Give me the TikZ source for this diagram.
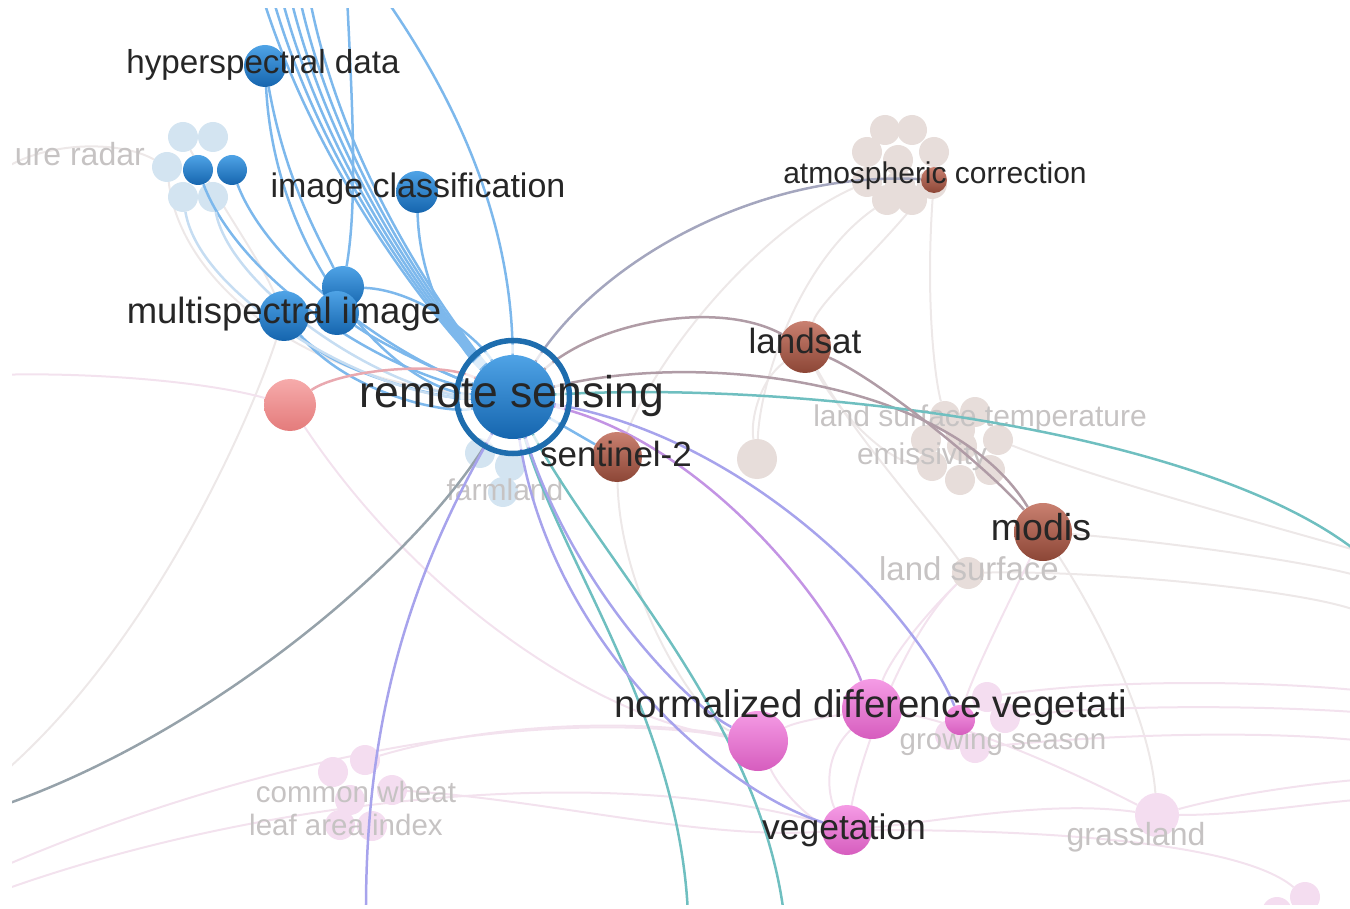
\documentclass[tikz,border=0pt]{standalone}
\usepackage{fontspec}
\setmainfont{Liberation Sans}
\usetikzlibrary{backgrounds}

\definecolor{blueTop}{HTML}{4FA3E6}
\definecolor{blueBot}{HTML}{1565AE}
\definecolor{ringblue}{HTML}{1E6DAE}
\definecolor{brownTop}{HTML}{C98070}
\definecolor{brownBot}{HTML}{8C4636}
\definecolor{pinkTop}{HTML}{F59BE5}
\definecolor{pinkBot}{HTML}{D65DBE}
\definecolor{redTop}{HTML}{F6ABAB}
\definecolor{redBot}{HTML}{E47B7B}
\definecolor{fadeblue}{HTML}{D3E4F1}
\definecolor{fadebeige}{HTML}{E7DDDA}
\definecolor{fadepink}{HTML}{F4DDF0}
\definecolor{edgeblue}{HTML}{7DB8EC}
\definecolor{edgelight}{HTML}{C6DDF2}
\definecolor{edgefade}{HTML}{EDE8E8}
\definecolor{edgepinkfade}{HTML}{F3E2EE}
\definecolor{edgeteal}{HTML}{6FBFC0}
\definecolor{edgelav}{HTML}{A7A3EC}
\definecolor{edgepurple}{HTML}{C394E4}
\definecolor{edgegray}{HTML}{A4A6BE}
\definecolor{edgemauve}{HTML}{B09CA6}
\definecolor{edgeolive}{HTML}{96A2AA}
\definecolor{edgered}{HTML}{E9A9B0}
\definecolor{labtext}{HTML}{262626}
\definecolor{fadetext}{HTML}{C6C3C3}

\pgfdeclarelayer{fadeedges}
\pgfdeclarelayer{fadenodes}
\pgfdeclarelayer{edges}
\pgfdeclarelayer{labels}
\pgfsetlayers{fadeedges,fadenodes,edges,main,labels}

\tikzset{
  bubble/.style={circle, inner sep=0pt, draw=none},
  bluenode/.style={bubble, top color=blueTop, bottom color=blueBot},
  brownnode/.style={bubble, top color=brownTop, bottom color=brownBot},
  pinknode/.style={bubble, top color=pinkTop, bottom color=pinkBot},
  rednode/.style={bubble, top color=redTop, bottom color=redBot},
  fblue/.style={bubble, fill=fadeblue},
  fbeige/.style={bubble, fill=fadebeige},
  fpink/.style={bubble, fill=fadepink},
  link/.style={line width=2.5pt, draw=edgeblue},
  flink/.style={line width=2pt, draw=edgefade},
  plink/.style={line width=2pt, draw=edgepinkfade},
  kwlabel/.style={anchor=base, inner sep=0pt, text=labtext, font=\fontsize{#1}{#1}\selectfont},
  fadelabel/.style={kwlabel=#1, text=fadetext},
}

\begin{document}
\begin{tikzpicture}[x=1pt,y=-1pt]
\useasboundingbox (0,0) rectangle (1350,909);

% faded clusters
\begin{pgfonlayer}{fadenodes}
  \foreach \x/\y [count=\i] in {183/137,213/137,167/167,183/197,213/197}
    \node[fblue, minimum size=30] (fb\i) at (\x,\y) {};
  \foreach \x/\y [count=\i] in {480/453,510/466,503/492}
    \node[fblue, minimum size=30] (fm\i) at (\x,\y) {};
  \foreach \x/\y [count=\i] in {867/152,885/130,912/130,934/152,867/182,887/200,912/200,932/184,898/160,900/185}
    \node[fbeige, minimum size=30] (fa\i) at (\x,\y) {};
  \foreach \x/\y [count=\i] in {945/416,975/412,998/440,990/470,960/480,932/466,926/440,962/446,960/430}
    \node[fbeige, minimum size=30] (fe\i) at (\x,\y) {};
  \node[fbeige, minimum size=40] (fsl) at (757,459) {};
  \node[fbeige, minimum size=32] (fls) at (968,573) {};
  \foreach \x/\y [count=\i] in {987/697,1005/718,975/748,950/735}
    \node[fpink, minimum size=30] (fg\i) at (\x,\y) {};
  \foreach \x/\y [count=\i] in {333/772,365/760,392/790,350/800,372/826,340/825}
    \node[fpink, minimum size=30] (fw\i) at (\x,\y) {};
  \node[fpink, minimum size=44] (fgr) at (1157,815) {};
  \node[fpink, minimum size=30] (fbr1) at (1305,897) {};
  \node[fpink, minimum size=30] (fbr2) at (1277,912) {};

  \node[fadelabel=32, anchor=base east] (sarL) at (145,166) {ure radar};
  \node[fadelabel=30] (farmL) at (505,500) {farmland};
  \node[fadelabel=30] (lstL) at (980,426) {land surface temperature};
  \node[fadelabel=30] (emiL) at (922,464) {emissivity};
  \node[fadelabel=33] (lsfL) at (969,580) {land surface};
  \node[fadelabel=29.5] (grL) at (1003,749) {growing season};
  \node[fadelabel=29.5] (cwL) at (356,802) {common wheat};
  \node[fadelabel=29.5] (laiL) at (346,835) {leaf area index};
  \node[fadelabel=32] (grsL) at (1136,845) {grassland};
\end{pgfonlayer}

% keyword bubbles
\node[bluenode, minimum size=42] (hd) at (265,66) {};
\node[bluenode, minimum size=30] (sar1) at (198,170) {};
\node[bluenode, minimum size=30] (sar2) at (232,170) {};
\node[bluenode, minimum size=42] (ic) at (417,192) {};
\node[bluenode, minimum size=42] (b3) at (343,287) {};
\node[bluenode, minimum size=50] (mi) at (284,316) {};
\node[bluenode, minimum size=44] (b4) at (337,313) {};
\node[bluenode, minimum size=84] (rs) at (513,397) {};
\node[rednode, minimum size=52] (red) at (290,405) {};
\node[brownnode, minimum size=26] (atm) at (934,180) {};
\node[brownnode, minimum size=52] (lsat) at (805,347) {};
\node[brownnode, minimum size=50] (sent) at (617,457) {};
\node[brownnode, minimum size=58] (modis) at (1043,532) {};
\node[pinknode, minimum size=60] (pk) at (758,741) {};
\node[pinknode, minimum size=60] (ndvi) at (872,709) {};
\node[pinknode, minimum size=30] (pks) at (960,720) {};
\node[pinknode, minimum size=50] (veg) at (847,830) {};

\draw[white, line width=9pt, opacity=.75] (rs.center) circle (48);
\draw[ringblue, line width=5.5pt] (rs.center) circle (56.5);

% loose ends outside the frame
\coordinate (topA) at (383,-5);
\coordinate (topB) at (347,-5);
\coordinate (westlow) at (-5,808);
\coordinate (southA) at (366,915);
\coordinate (southB) at (688,915);
\coordinate (southC) at (784,915);
\coordinate (eastA) at (1355,550);

% coloured links
\begin{pgfonlayer}{edges}
  \foreach \tx [count=\i] in {262,272,281,290,299,309} {
    \coordinate (top\i) at (\tx,-5);
    \draw[link] (rs) .. controls (440+3*\i,330) and (314+5*\i,180) .. (top\i);
  }
  \draw[link] (rs) .. controls (512,250) and (478,130) .. (topA);
  \draw[link] (b3) .. controls (358,200) and (352,100) .. (topB);
  \draw[link] (hd) .. controls (275,260) and (395,390) .. (rs);
  \draw[link] (hd) .. controls (285,180) and (320,240) .. (b3);
  \draw[link] (sar1) .. controls (240,280) and (380,370) .. (rs);
  \draw[link] (sar2) .. controls (270,270) and (400,360) .. (rs);
  \draw[link] (ic) .. controls (420,300) and (470,360) .. (rs);
  \draw[link] (b3) .. controls (420,290) and (480,340) .. (rs);
  \draw[link] (b4) .. controls (390,350) and (460,380) .. (rs);
  \draw[link] (mi) .. controls (330,370) and (440,400) .. (rs);
  \draw[link] (mi) .. controls (350,395) and (450,415) .. (rs);
  \draw[link] (rs) -- (sent);
  \draw[link, draw=edgelight] (fb4) .. controls (200,300) and (380,400) .. (rs);
  \draw[link, draw=edgelight] (fb5) .. controls (230,290) and (390,395) .. (rs);
  \draw[link, draw=edgered] (red) .. controls (340,370) and (440,360) .. (rs);
  \draw[link, draw=edgeolive] (rs) .. controls (420,560) and (200,740) .. (westlow);
  \draw[link, draw=edgelav] (rs) .. controls (420,560) and (365,700) .. (southA);
  \draw[link, draw=edgeteal] (rs) .. controls (560,560) and (680,720) .. (southB);
  \draw[link, draw=edgeteal] (rs) .. controls (600,560) and (760,720) .. (southC);
  \draw[link, draw=edgelav] (rs) .. controls (550,640) and (720,790) .. (veg);
  \draw[link, draw=edgelav] (rs) .. controls (570,580) and (680,700) .. (pk);
  \draw[link, draw=edgepurple] (rs) .. controls (700,440) and (830,600) .. (ndvi);
  \draw[link, draw=edgelav] (rs) .. controls (760,440) and (920,620) .. (pks);
  \draw[link, draw=edgemauve] (rs) .. controls (600,320) and (720,300) .. (lsat);
  \draw[link, draw=edgegray] (rs) .. controls (600,260) and (760,170) .. (atm);
  \draw[link, draw=edgemauve] (rs) .. controls (700,350) and (950,380) .. (modis);
  \draw[link, draw=edgeteal] (rs) .. controls (800,380) and (1200,430) .. (eastA);
  \draw[link, draw=edgemauve] (lsat) .. controls (880,380) and (990,470) .. (modis);
\end{pgfonlayer}

% faint links
\begin{pgfonlayer}{fadeedges}
  \coordinate (westA) at (-5,175);
  \coordinate (westB) at (-5,375);
  \coordinate (westC) at (-5,780);
  \coordinate (westD) at (-5,870);
  \coordinate (westE) at (-5,893);
  \coordinate (eastB) at (1355,575);
  \coordinate (eastC) at (1355,610);
  \coordinate (eastD) at (1355,690);
  \coordinate (eastE) at (1355,712);
  \coordinate (eastF) at (1355,740);
  \coordinate (eastG) at (1355,780);
  \coordinate (eastH) at (1355,800);
  \draw[flink] (westA) .. controls (40,140) and (120,140) .. (fb3);
  \draw[flink] (fb1) .. controls (230,220) and (260,260) .. (mi);
  \draw[flink] (fb3) .. controls (180,280) and (300,380) .. (rs);
  \draw[flink] (westC) .. controls (150,650) and (250,420) .. (mi);
  \draw[flink] (fa5) .. controls (760,230) and (660,350) .. (sent);
  \draw[flink] (fa6) .. controls (800,260) and (760,380) .. (fsl);
  \draw[flink] (atm) .. controls (880,250) and (820,300) .. (lsat);
  \draw[flink] (atm) .. controls (925,300) and (935,380) .. (fe1);
  \draw[flink] (lsat) .. controls (830,400) and (880,460) .. (fe6);
  \draw[flink] (lsat) .. controls (760,380) and (750,420) .. (fsl);
  \draw[flink] (lsat) .. controls (850,430) and (930,520) .. (fls);
  \draw[flink] (fe3) .. controls (1100,480) and (1250,520) .. (eastA);
  \draw[flink] (modis) .. controls (1150,540) and (1300,560) .. (eastB);
  \draw[flink] (fls) .. controls (1100,570) and (1300,590) .. (eastC);
  \draw[flink] (modis) .. controls (1100,620) and (1150,720) .. (fgr);
  \draw[flink] (sent) .. controls (620,600) and (700,720) .. (pk);
  \draw[plink] (westB) .. controls (80,372) and (200,380) .. (red);
  \draw[plink] (red) .. controls (420,600) and (600,720) .. (pk);
  \draw[plink] (fls) .. controls (920,620) and (890,660) .. (ndvi);
  \draw[plink] (fls) .. controls (900,640) and (860,760) .. (veg);
  \draw[plink] (modis) .. controls (1010,600) and (970,680) .. (pks);
  \draw[plink] (fg1) .. controls (1100,680) and (1250,680) .. (eastD);
  \draw[plink] (fg2) .. controls (1100,705) and (1250,705) .. (eastE);
  \draw[plink] (fg3) .. controls (1100,735) and (1250,730) .. (eastF);
  \draw[plink] (fgr) .. controls (1230,795) and (1300,785) .. (eastG);
  \draw[plink] (fgr) .. controls (1240,815) and (1300,805) .. (eastH);
  \draw[plink] (fgr) .. controls (1050,800) and (950,820) .. (veg);
  \draw[plink] (fgr) .. controls (1050,760) and (950,720) .. (ndvi);
  \draw[plink] (ndvi) .. controls (820,760) and (830,800) .. (veg);
  \draw[plink] (pk) .. controls (780,790) and (810,820) .. (veg);
  \draw[plink] (pk) .. controls (800,720) and (840,715) .. (ndvi);
  \draw[plink] (fw2) .. controls (500,720) and (650,720) .. (pk);
  \draw[plink] (fw3) .. controls (550,800) and (700,840) .. (veg);
  \draw[plink] (westD) .. controls (200,780) and (500,700) .. (pk);
  \draw[plink] (westE) .. controls (250,800) and (600,760) .. (veg);
  \draw[plink] (fbr1) .. controls (1250,850) and (1100,830) .. (veg);
\end{pgfonlayer}

% labels and frame margins
\begin{pgfonlayer}{labels}
  \fill[white] (0,0) rectangle (12,909);
  \fill[white] (0,0) rectangle (1350,8);
  \fill[white] (0,905) rectangle (1350,909);
  \node[kwlabel=33.2] (hdL) at (263,74) {hyperspectral data};
  \node[kwlabel=34] (icL) at (418,198) {image classification};
  \node[kwlabel=36.5] (miL) at (284,324) {multispectral image};
  \node[kwlabel=44.5] (rsL) at (512,407) {remote sensing};
  \node[kwlabel=35] (sentL) at (616,466) {sentinel-2};
  \node[kwlabel=30] (atmL) at (935,184) {atmospheric correction};
  \node[kwlabel=35] (lsatL) at (805,354) {landsat};
  \node[kwlabel=37.5] (modisL) at (1041,540) {modis};
  \node[kwlabel=38.5] (ndviL) at (871,717) {normalized difference vegetati};
  \node[kwlabel=35.5] (vegL) at (844,839) {vegetation};
\end{pgfonlayer}
\end{tikzpicture}
\end{document}
